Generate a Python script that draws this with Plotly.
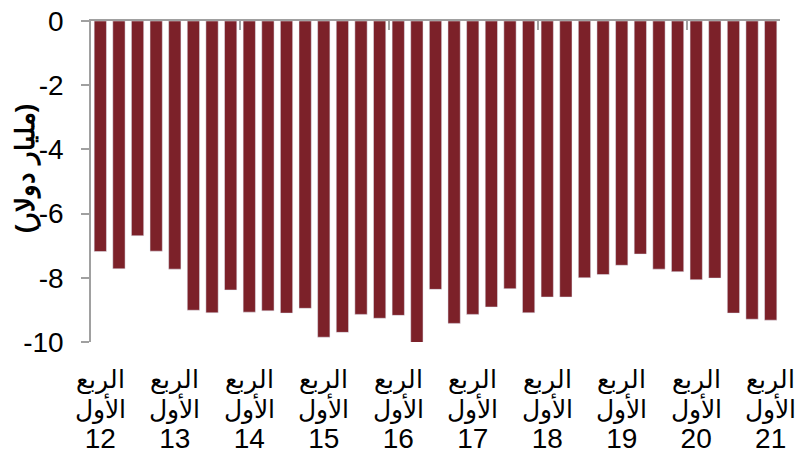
import plotly.graph_objects as go

# Data: quarterly values, Q1 2012 .. Q1 2021 (billion dollars)
quarters = list(range(1, 38))
values = [-7.18, -7.72, -6.69, -7.17, -7.73, -9.01, -9.09, -8.38,
          -9.07, -9.03, -9.10, -8.95, -9.85, -9.70, -9.14, -9.26,
          -9.17, -10.12, -8.36, -9.42, -9.14, -8.91, -8.34, -9.09,
          -8.60, -8.60, -8.00, -7.90, -7.61, -7.26, -7.73, -7.81,
          -8.06, -8.01, -9.10, -9.29, -9.32]
years = ["12", "13", "14", "15", "16", "17", "18", "19", "20", "21"]
label_positions = [1, 5, 9, 13, 17, 21, 25, 29, 33, 37]
label_line1 = "الربع"
label_line2 = "الأول"
y_tickvals = [0, -2, -4, -6, -8, -10]
y_ticktext = ["0", "-2", "-4", "-6", "-8", "-10"]
divider_positions = [8.5, 16.5, 24.5, 32.5]
y_title = "(مليار دولار)"

bar_color = "#7C2129"
axis_color = "#A0A0A0"
font_family = "Liberation Sans, Arial, sans-serif"


def big(s, size=25):
    return "<span style='font-size:%dpx'>%s</span>" % (size, s)


x_ticktext = [big(label_line1) + "<br>" + big(label_line2) + "<br>" + big(y, 28) for y in years]

fig = go.Figure()
fig.add_trace(go.Bar(x=quarters, y=values, marker=dict(color=bar_color, line=dict(width=0)),
                     hoverinfo="skip"))
# invisible copy on the top axis so that the top axis line/ticks are drawn
fig.add_trace(go.Bar(x=quarters, y=values, xaxis="x2", marker=dict(color="rgba(0,0,0,0)"),
                     hoverinfo="skip"))

fig.update_layout(
    width=795, height=457,
    margin=dict(l=91, r=15, t=21, b=115, autoexpand=False),
    paper_bgcolor="white", plot_bgcolor="white",
    bargap=0.34,
    showlegend=False,
    font=dict(family=font_family, color="black", size=20),
    xaxis=dict(
        range=[0.5, 37.5], automargin=False,
        tickmode="array", tickvals=label_positions, ticktext=x_ticktext,
        tickfont=dict(size=23, family=font_family, color="black"),
        showline=False, showgrid=False, zeroline=False, ticks="",
        ticklabelstandoff=22, ticklabeloverflow="allow",
    ),
    xaxis2=dict(
        range=[0.5, 37.5], overlaying="x", side="top", anchor="y", automargin=False,
        tickmode="array", tickvals=divider_positions,
        showticklabels=False, showline=True, linecolor=axis_color, linewidth=1.5,
        ticks="inside", ticklen=9, tickcolor=axis_color, tickwidth=1.5,
        showgrid=False, zeroline=False, layer="above traces",
    ),
    yaxis=dict(
        range=[-10, 0], automargin=False,
        tickmode="array", tickvals=y_tickvals, ticktext=y_ticktext,
        tickfont=dict(size=28, family=font_family, color="black"),
        showline=True, linecolor=axis_color, linewidth=1.5,
        ticks="outside", ticklen=8, tickcolor=axis_color, tickwidth=1.5,
        showgrid=False, zeroline=False,
        ticklabelstandoff=12, ticklabeloverflow="allow",
    ),
    annotations=[dict(
        text="<b>" + y_title + "</b>", textangle=-90,
        xref="paper", yref="paper", x=-0.095, y=0.54,
        xanchor="center", yanchor="middle", showarrow=False,
        font=dict(size=26, family=font_family, color="black"),
    )],
)

fig.write_html("out.html", config={"displayModeBar": False},
               post_script="document.body.style.margin='0';document.body.style.padding='0';")
